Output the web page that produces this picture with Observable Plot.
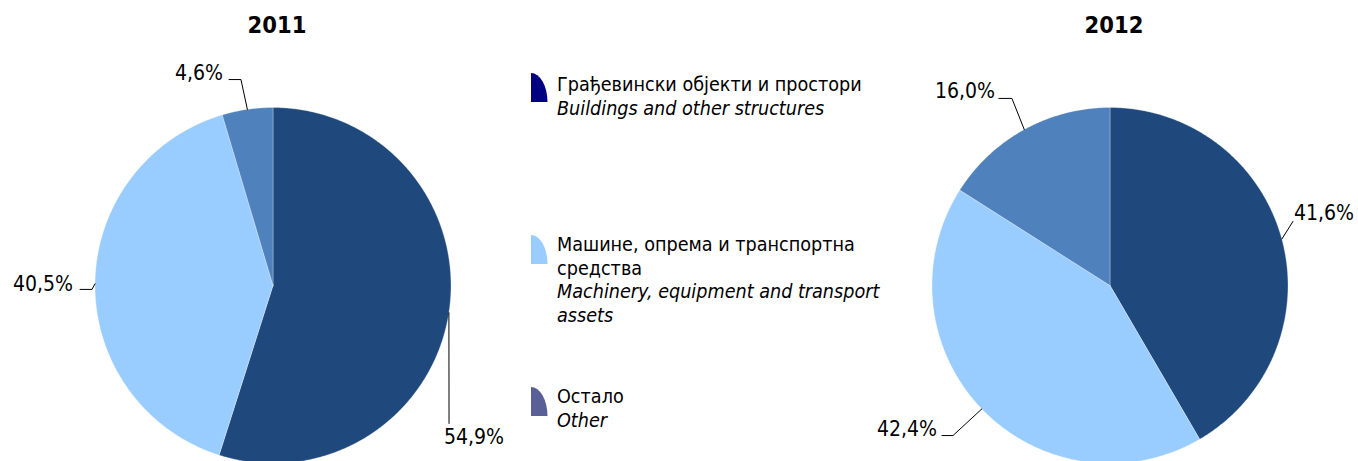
<!DOCTYPE html>
<html>
<head>
<meta charset="utf-8">
<script src="https://cdn.jsdelivr.net/npm/d3@7"></script>
<script src="https://cdn.jsdelivr.net/npm/@observablehq/plot@0.6"></script>
<style>
  html, body { margin: 0; padding: 0; background: #fff; }
  body { font-family: "DejaVu Sans Condensed", "Liberation Sans", sans-serif; }
  #wrap { position: relative; width: 1358px; height: 461px; overflow: hidden; }
  .pie { position: absolute; top: 0; }
  .legend { position: absolute; left: 531px; top: 0; width: 360px; }
  .item { position: absolute; left: 0; }
  .item svg { position: absolute; left: 0; }
  .item .txt { position: absolute; left: 26px; font-size: 19.6px; line-height: 23.5px; color: #000; white-space: nowrap; }
  .item .en { font-style: italic; }
</style>
</head>
<body>
<div id="wrap"></div>
<script>
// ---- data ----
const years = ["2011", "2012"];
const categoriesSr = ["Грађевински објекти и простори", "Машине, опрема и транспортна\nсредства", "Остало"];
const categoriesEn = ["Buildings and other structures", "Machinery, equipment and transport\nassets", "Other"];
const values2011 = [54.9, 40.5, 4.6];
const values2012 = [41.6, 42.4, 16.0];
const valueLabels2011 = ["54,9%", "40,5%", "4,6%"];
const valueLabels2012 = ["41,6%", "42,4%", "16,0%"];

// ---- styles / layout ----
const sliceColors = ["#1F497D", "#99CCFF", "#4F81BD"];
const legendColors = ["#000080", "#99CCFF", "#5B5F97"];
const R = 178; // radius in px
const H = 461;
const FONT = '"DejaVu Sans Condensed", "Liberation Sans", sans-serif';
// label layout in radius units relative to pie centre (y downward): elbow points and text anchor
const labelLayout2011 = [
  {pts: [[0.989, 0.775]], tx: 0.961, ty: 0.854, anchor: "start"},
  {pts: [[-1.017, 0.022], [-1.084, 0.022]], tx: -1.124, ty: -0.006, anchor: "end"},
  {pts: [[-0.180, -1.157], [-0.247, -1.157]], tx: -0.281, ty: -1.191, anchor: "end"}
];
const labelLayout2012 = [
  {pts: [[1.028, -0.36]], tx: 1.034, ty: -0.404, anchor: "start"},
  {pts: [[-0.882, 0.843], [-0.944, 0.843]], tx: -0.972, ty: 0.809, anchor: "end"},
  {pts: [[-0.551, -1.051], [-0.624, -1.051]], tx: -0.646, ty: -1.09, anchor: "end"}
];

function makePie(title, values, labels, layout, width, cx, cy) {
  const total = d3.sum(values);
  const slices = [];
  const leaders = [];
  const texts = [];
  let acc = 0;
  values.forEach((v, i) => {
    const a0 = acc / total * 2 * Math.PI;
    acc += v;
    const a1 = acc / total * 2 * Math.PI;
    const n = Math.max(2, Math.ceil((a1 - a0) / (Math.PI / 360)));
    slices.push({k: i, x: 0, y: 0});
    for (let j = 0; j <= n; j++) {
      const a = a0 + (a1 - a0) * j / n;
      slices.push({k: i, x: Math.sin(a), y: -Math.cos(a)});
    }
    slices.push({k: i, x: 0, y: 0});
    const am = (a0 + a1) / 2;
    const L = layout[i];
    leaders.push({k: i, x: Math.sin(am), y: -Math.cos(am)});
    L.pts.forEach(p => leaders.push({k: i, x: p[0], y: p[1]}));
    texts.push({k: i, x: L.tx, y: L.ty, t: labels[i], anchor: L.anchor});
  });
  return Plot.plot({
    width, height: H,
    margin: 0,
    x: {domain: [-cx / R, (width - cx) / R], axis: null},
    y: {domain: [(H - cy) / R, -cy / R], axis: null},
    style: {fontFamily: FONT, background: "white", overflow: "visible"},
    marks: [
      Plot.line(slices, {x: "x", y: "y", z: "k", fill: d => sliceColors[d.k], stroke: "white", strokeWidth: 0.6, strokeOpacity: 0.5, curve: "linear"}),
      Plot.line(leaders, {x: "x", y: "y", z: "k", stroke: "black", strokeWidth: 1, curve: "linear"}),
      Plot.text(texts.filter(d => d.anchor === "start"), {x: "x", y: "y", text: "t", textAnchor: "start", fontSize: 21, fill: "black"}),
      Plot.text(texts.filter(d => d.anchor === "end"), {x: "x", y: "y", text: "t", textAnchor: "end", fontSize: 21, fill: "black"}),
      Plot.text([title], {x: 0.022, y: -1.46, text: d => d, fontSize: 23.5, fontWeight: "bold", fill: "black"})
    ]
  });
}

const wrap = document.getElementById("wrap");
const p1 = makePie(years[0], values2011, valueLabels2011, labelLayout2011, 520, 272.5, 285);
p1.classList.add("pie"); p1.style.left = "0px";
wrap.appendChild(p1);
const p2 = makePie(years[1], values2012, valueLabels2012, labelLayout2012, 498, 249.5, 285);
p2.classList.add("pie"); p2.style.left = "860px";
wrap.appendChild(p2);

// legend
const legendTops = [73, 233, 385];
const legend = document.createElement("div");
legend.className = "legend";
const esc = s => s.replace(/&/g, "&amp;").replace(/</g, "&lt;");
categoriesSr.forEach((c, i) => {
  const item = document.createElement("div");
  item.className = "item";
  item.style.top = legendTops[i] + "px";
  const ns = "http://www.w3.org/2000/svg";
  const svg = document.createElementNS(ns, "svg");
  svg.setAttribute("width", 17); svg.setAttribute("height", 30);
  svg.style.top = (i === 0 ? 0 : 2) + "px";
  const path = document.createElementNS(ns, "path");
  path.setAttribute("d", "M0,0 A16.5,29 0 0 1 16.5,29 L0,29 Z");
  path.setAttribute("fill", legendColors[i]);
  svg.appendChild(path);
  item.appendChild(svg);
  const txt = document.createElement("div");
  txt.className = "txt";
  const sr = document.createElement("div");
  sr.innerHTML = c.split("\n").map(esc).join("<br>");
  const en = document.createElement("div");
  en.className = "en";
  en.innerHTML = categoriesEn[i].split("\n").map(esc).join("<br>");
  txt.appendChild(sr); txt.appendChild(en);
  item.appendChild(txt);
  legend.appendChild(item);
});
wrap.appendChild(legend);
</script>
</body>
</html>
